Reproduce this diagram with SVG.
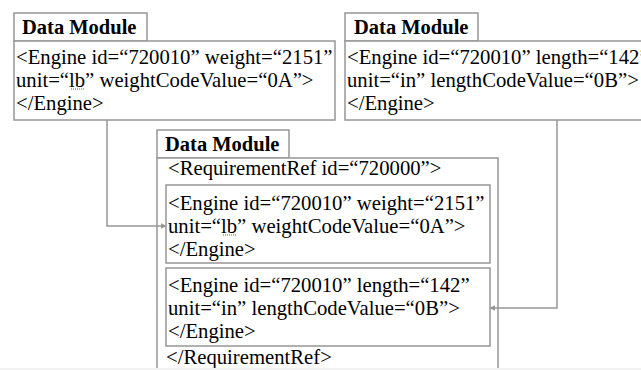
<svg xmlns="http://www.w3.org/2000/svg" width="641" height="370" viewBox="0 0 641 370">
  <defs>
    <style>
      .box { fill: #ffffff; stroke: #969696; stroke-width: 1.5; }
      .title { font-family: "Liberation Serif", "Times New Roman", serif; font-size: 20.5px; font-weight: bold; fill: #000000; }
      .txt { font-family: "Liberation Serif", "Times New Roman", serif; font-size: 20.7px; fill: #000000; }
      .conn { fill: none; stroke: #969696; stroke-width: 1.5; }
      .squig { fill: none; stroke: #e03030; stroke-width: 1; stroke-dasharray: 1 1; }
    </style>
    <marker id="arrow" viewBox="0 0 10 10" refX="9" refY="5" markerWidth="6" markerHeight="6" markerUnits="userSpaceOnUse" orient="auto">
      <path d="M0,0 L10,5 L0,10 z" fill="#969696"/>
    </marker>
  </defs>
  <rect x="0" y="0" width="641" height="370" fill="#ffffff"/>

  <g id="dm-left">
    <rect class="box" x="14" y="13" width="133" height="28"/>
    <text class="title" x="22" y="34">Data Module</text>
    <rect class="box" x="14" y="41" width="321" height="79"/>
    <text class="txt" x="16" y="64">&lt;Engine id=“720010” weight=“2151”</text>
    <text class="txt" x="16" y="87">unit=“lb” weightCodeValue=“0A”&gt;</text>
    <path class="squig" d="M71,89 L85,89"/>
    <text class="txt" x="16" y="110">&lt;/Engine&gt;</text>
  </g>

  <g id="dm-right">
    <rect class="box" x="345" y="13" width="133" height="28"/>
    <text class="title" x="354" y="34">Data Module</text>
    <rect class="box" x="345" y="41" width="310" height="79"/>
    <text class="txt" x="347" y="64">&lt;Engine id=“720010” length=“142”</text>
    <text class="txt" x="347" y="87">unit=“in” lengthCodeValue=“0B”&gt;</text>
    <text class="txt" x="347" y="110">&lt;/Engine&gt;</text>
  </g>

  <g id="dm-merged">
    <rect class="box" x="157" y="130" width="132" height="28"/>
    <text class="title" x="165" y="151">Data Module</text>
    <rect class="box" x="157" y="158" width="341" height="220"/>
    <text class="txt" x="168" y="175">&lt;RequirementRef id=“720000”&gt;</text>
    <g id="engine-weight">
      <rect class="box" x="166" y="185" width="324" height="78"/>
      <text class="txt" x="168" y="210">&lt;Engine id=“720010” weight=“2151”</text>
      <text class="txt" x="168" y="233">unit=“lb” weightCodeValue=“0A”&gt;</text>
      <path class="squig" d="M223,235 L237,235"/>
      <text class="txt" x="168" y="256">&lt;/Engine&gt;</text>
    </g>
    <g id="engine-length">
      <rect class="box" x="166" y="268" width="324" height="78"/>
      <text class="txt" x="168" y="292">&lt;Engine id=“720010” length=“142”</text>
      <text class="txt" x="168" y="315">unit=“in” lengthCodeValue=“0B”&gt;</text>
      <text class="txt" x="168" y="338">&lt;/Engine&gt;</text>
    </g>
    <text class="txt" x="166" y="364">&lt;/RequirementRef&gt;</text>
  </g>

  <g id="connectors">
    <path class="conn" d="M107,120 L107,226 L166,226" marker-end="url(#arrow)"/>
    <path class="conn" d="M557,120 L557,308 L490,308" marker-end="url(#arrow)"/>
  </g>
  <rect x="0" y="368" width="641" height="2" fill="#f2f2f2"/>
</svg>
